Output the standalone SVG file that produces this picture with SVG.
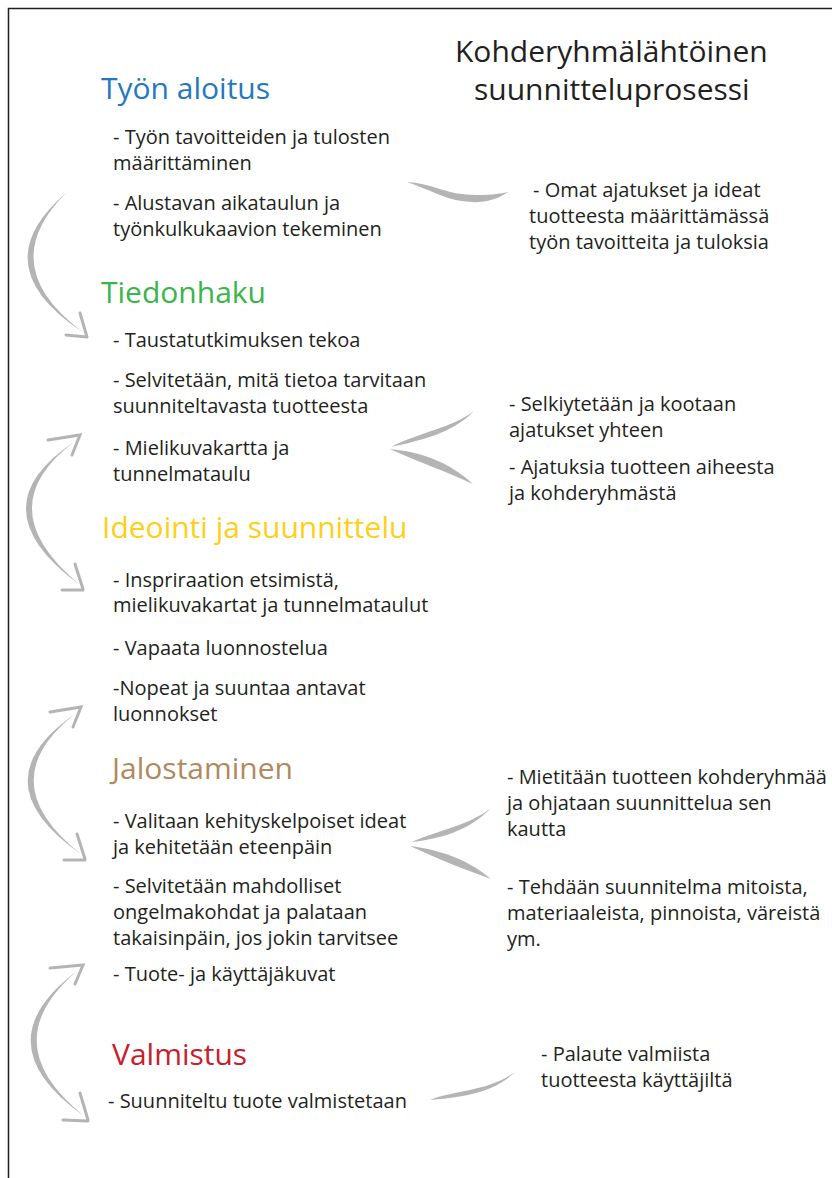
<svg xmlns="http://www.w3.org/2000/svg" width="832" height="1178" viewBox="0 0 832 1178">
<style>
text{font-family:"Open Sans","Noto Sans","Liberation Sans",sans-serif;fill:#231f20}
.b{font-size:20px}
.h{font-size:30px}
.t{font-size:30px}
.brush{fill:#b4b4b4}
.tip{stroke:#b4b4b4;stroke-width:3;stroke-linecap:round;fill:none}
</style>
<rect x="0" y="0" width="832" height="1178" fill="#fff"/>
<path d="M8.5 1178 V8.5 H832" fill="none" stroke="#231f20" stroke-width="1.5"/>

<g id="title">
<text class="t" x="455" y="62">Kohderyhmälähtöinen</text>
<text class="t" x="474" y="100">suunnitteluprosessi</text>
</g>

<g id="stage-tyon-aloitus">
<text class="h" x="101" y="99" style="fill:#2578c0">Työn aloitus</text>
<text class="b" x="113" y="144">- Työn tavoitteiden ja tulosten</text>
<text class="b" x="113" y="170">määrittäminen</text>
<text class="b" x="113" y="210">- Alustavan aikataulun ja</text>
<text class="b" x="113" y="236">työnkulkukaavion tekeminen</text>
</g>

<g id="stage-tiedonhaku">
<text class="h" x="101" y="303" style="fill:#3ab54a">Tiedonhaku</text>
<text class="b" x="113" y="347">- Taustatutkimuksen tekoa</text>
<text class="b" x="113" y="387">- Selvitetään, mitä tietoa tarvitaan</text>
<text class="b" x="113" y="413">suunniteltavasta tuotteesta</text>
<text class="b" x="113" y="455">- Mielikuvakartta ja</text>
<text class="b" x="113" y="481">tunnelmataulu</text>
</g>

<g id="stage-ideointi">
<text class="h" x="102" y="538" style="fill:#fdd017">Ideointi ja suunnittelu</text>
<text class="b" x="113" y="587">- Inspriraation etsimistä,</text>
<text class="b" x="113" y="612">mielikuvakartat ja tunnelmataulut</text>
<text class="b" x="113" y="655">- Vapaata luonnostelua</text>
<text class="b" x="113" y="695">-Nopeat ja suuntaa antavat</text>
<text class="b" x="113" y="721">luonnokset</text>
</g>

<g id="stage-jalostaminen">
<text class="h" x="112" y="779" style="fill:#b08a5c">Jalostaminen</text>
<text class="b" x="113" y="828">- Valitaan kehityskelpoiset ideat</text>
<text class="b" x="113" y="854">ja kehitetään eteenpäin</text>
<text class="b" x="113" y="893">- Selvitetään mahdolliset</text>
<text class="b" x="113" y="919">ongelmakohdat ja palataan</text>
<text class="b" x="113" y="945">takaisinpäin, jos jokin tarvitsee</text>
<text class="b" x="113" y="981">- Tuote- ja käyttäjäkuvat</text>
</g>

<g id="stage-valmistus">
<text class="h" x="112" y="1065" style="fill:#c8202a">Valmistus</text>
<text class="b" x="108" y="1108">- Suunniteltu tuote valmistetaan</text>
</g>

<g id="note-omat-ajatukset">
<text class="b" x="533" y="197">- Omat ajatukset ja ideat</text>
<text class="b" x="529" y="223">tuotteesta määrittämässä</text>
<text class="b" x="529" y="249">työn tavoitteita ja tuloksia</text>
</g>

<g id="note-selkiytetaan">
<text class="b" x="509" y="411">- Selkiytetään ja kootaan</text>
<text class="b" x="509" y="437">ajatukset yhteen</text>
<text class="b" x="509" y="474">- Ajatuksia tuotteen aiheesta</text>
<text class="b" x="509" y="500">ja kohderyhmästä</text>
</g>

<g id="note-mietitaan">
<text class="b" x="507" y="784">- Mietitään tuotteen kohderyhmää</text>
<text class="b" x="507" y="810">ja ohjataan suunnittelua sen</text>
<text class="b" x="507" y="836">kautta</text>
<text class="b" x="507" y="894">- Tehdään suunnitelma mitoista,</text>
<text class="b" x="507" y="920">materiaaleista, pinnoista, väreistä</text>
<text class="b" x="507" y="946">ym.</text>
</g>

<g id="note-palaute">
<text class="b" x="541" y="1061">- Palaute valmiista</text>
<text class="b" x="541" y="1087">tuotteesta käyttäjiltä</text>
</g>

<g id="connectors">
<!-- left arcs -->
<path class="brush" d="M66 193 Q-19 266 84 333 Q-7 266 66 193 Z"/>
<path class="tip" d="M80 313 L87 337 M66 335 L87 337"/>

<path class="brush" d="M74 442 Q-25 508 80 585 Q-13 508 74 442 Z"/>
<path class="tip" d="M48 440 L80 435 L72 455"/>
<path class="tip" d="M75 564 L83 589 M62 590 L83 590"/>

<path class="brush" d="M75 714 Q-23 782 82 855 Q-11 782 75 714 Z"/>
<path class="tip" d="M50 712 L81 707 L73 727"/>
<path class="tip" d="M77 834 L85 859 M64 860 L85 860"/>

<path class="brush" d="M77 971 Q-19 1043 84 1116 Q-7 1043 77 971 Z"/>
<path class="tip" d="M50 968 L83 965 L75 984"/>
<path class="tip" d="M80 1093 L88 1120 M63 1120 L88 1121"/>

<!-- right connectors -->
<path class="brush" d="M407 182 C430 183 445 193 462 194 C480 196 495 195 508 192 C495 201 480 204 462 201 C445 199 428 189 407 182 Z"/>

<path class="brush" d="M474 411 C452 428 420 432 391 447 C418 441 452 434 474 411 Z"/>
<path class="brush" d="M390 449 C420 452 448 461 473 484 C448 472 420 463 390 449 Z"/>

<path class="brush" d="M491 808 C468 826 438 830 412 842 C438 839 468 832 491 808 Z"/>
<path class="brush" d="M410 846 C440 850 467 859 491 879 C466 870 440 860 410 846 Z"/>

<path class="brush" d="M430 1100 C455 1090 487 1092 515 1072 C492 1094 460 1097 430 1100 Z"/>
</g>
</svg>
